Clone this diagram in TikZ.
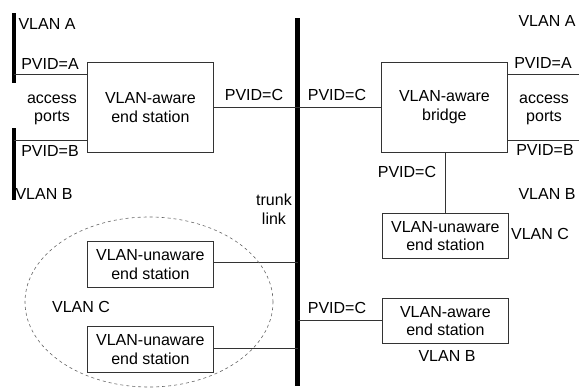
\documentclass[tikz,border=0pt]{standalone}
\usepackage{fontspec}
\setmainfont{Liberation Sans}
\usetikzlibrary{shapes.geometric}
\begin{document}
\begin{tikzpicture}[x=1pt,y=-1pt,
  every node/.style={font=\fontsize{16}{18.5}\selectfont, inner sep=0pt},
  box/.style={draw=black!80, line width=0.8pt, align=center, anchor=north west},
  lbl/.style={align=center},
  wire/.style={draw=black!80, line width=0.8pt},
  bar/.style={line width=4.5pt},
  zone/.style={draw=black!60, dashed, line width=0.6pt}]
\useasboundingbox (0,0) rectangle (579,389);
% trunk and access bars
\draw[bar] (297.5,18) coordinate (ttop) -- (297.5,386) coordinate (tbot);
\draw[bar] (14,13) coordinate (la1) -- (14,83) coordinate (la2);
\draw[bar] (14,128) coordinate (lb1) -- (14,200) coordinate (lb2);
% left end station
\node[box, minimum width=126pt, minimum height=90pt] (les) at (87,62) {VLAN-aware\\end station};
\coordinate (lpa) at (14,74);
\coordinate (lpb) at (14,140);
\draw[wire] (lpa) -- (les.west |- lpa);
\draw[wire] (lpb) -- (les.west |- lpb);
\draw[wire] (les.east |- 0,107) -- (297.5,107) coordinate (tj1);
% bridge
\node[box, minimum width=126pt, minimum height=90pt] (br) at (381,62) {VLAN-aware\\bridge};
\draw[wire] (tj1) -- (br.west |- tj1);
\coordinate (rpa) at (579,74);
\coordinate (rpb) at (579,140);
\draw[wire] (br.east |- rpa) -- (rpa);
\draw[wire] (br.east |- rpb) -- (rpb);
% unaware right
\node[box, minimum width=126pt, minimum height=45pt] (ru) at (382,213) {VLAN-unaware\\end station};
\draw[wire] (br.south -| ru.north) -- (ru.north);
% aware bottom right
\node[box, minimum width=126pt, minimum height=45pt] (ra) at (382,298) {VLAN-aware\\end station};
\draw[wire] (297.5,320) coordinate (tj2) -- (ra.west |- tj2);
% unaware left
\node[box, minimum width=126pt, minimum height=46pt] (lu1) at (87,241) {VLAN-unaware\\end station};
\node[box, minimum width=126pt, minimum height=46pt] (lu2) at (87,326) {VLAN-unaware\\end station};
\draw[wire] (lu1.east |- 0,262) -- (297.5,262) coordinate (tj3);
\draw[wire] (lu2.east |- 0,348) -- (297.5,348) coordinate (tj4);
% ellipse
\node[zone, ellipse, minimum width=248pt, minimum height=170pt] (vc) at (149,302) {};
% labels
\node[lbl] (t1) at (47,24) {VLAN A};
\node[lbl] (t2) at (50,64) {PVID=A};
\node[lbl] (t3) at (52,110) {access\\ports};
\node[lbl] (t4) at (50,151) {PVID=B};
\node[lbl] (t5) at (44,194) {VLAN B};
\node[lbl] (t6) at (254,95) {PVID=C};
\node[lbl] (t7) at (337,95) {PVID=C};
\node[lbl] (t8) at (547,21) {VLAN A};
\node[lbl] (t9) at (543,63) {PVID=A};
\node[lbl] (t10) at (544,110) {access\\ports};
\node[lbl] (t11) at (545,150) {PVID=B};
\node[lbl] (t12) at (407,172) {PVID=C};
\node[lbl] (t13) at (547,194) {VLAN B};
\node[lbl] (t14) at (540,234) {VLAN C};
\node[lbl] (t15) at (337,308) {PVID=C};
\node[lbl] (t16) at (447,356) {VLAN B};
\node[lbl] (t17) at (274,209) {trunk\\link};
\node[lbl] (t18) at (81,307) {VLAN C};
\end{tikzpicture}
\end{document}
